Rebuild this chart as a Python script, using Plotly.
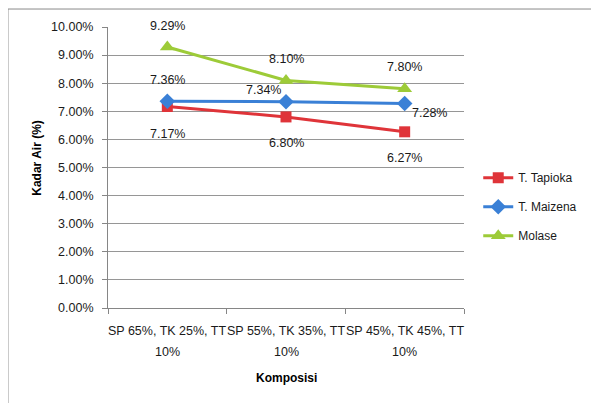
import plotly.graph_objects as go

categories = ["SP 65%, TK 25%, TT 10%", "SP 55%, TK 35%, TT 10%", "SP 45%, TK 45%, TT 10%"]
tick_lines_1 = ["SP 65%, TK 25%, TT", "SP 55%, TK 35%, TT", "SP 45%, TK 45%, TT"]
tick_lines_2 = ["10%", "10%", "10%"]
tapioka = [7.17, 6.80, 6.27]
maizena = [7.36, 7.34, 7.28]
molase = [9.29, 8.10, 7.80]
y_ticks = [0, 1, 2, 3, 4, 5, 6, 7, 8, 9, 10]

FONT = "Liberation Sans"
FS = 12.5
RED = "#DF3439"
BLUE = "#3A80D6"
GREEN = "#9DCB38"

fig = go.Figure()
series = [
    ("T. Tapioka", tapioka, RED, "square", 11),
    ("T. Maizena", maizena, BLUE, "diamond", 12),
    ("Molase", molase, GREEN, "triangle-up", 13),
]
for name, vals, col, sym, sz in series:
    fig.add_trace(go.Scatter(
        x=categories, y=vals, name=name, mode="lines+markers",
        line=dict(color=col, width=3),
        marker=dict(color=col, symbol=sym, size=sz),
        legendgroup=name,
    ))

# data labels (offsets in pixels)
label_offsets = {
    "T. Tapioka": [(0, -27), (0, -26), (0, -26)],
    "T. Maizena": [(0, 21), (-23, 12), (25, -10)],
    "Molase": [(0, 21), (0, 21), (0, 22)],
}
annotations = []
for name, vals, col, sym, sz in series:
    for i, v in enumerate(vals):
        dx, dy = label_offsets[name][i]
        annotations.append(dict(
            x=categories[i], y=v, xref="x", yref="y", text=f"{v:.2f}%",
            showarrow=False, xshift=dx, yshift=dy,
            font=dict(family=FONT, size=FS, color="#1a1a1a"),
        ))

# category tick labels (wrapped like the original)
for i, c in enumerate(categories):
    annotations.append(dict(x=c, y=0, xref="x", yref="y", text=tick_lines_1[i],
                            showarrow=False, yshift=-23, yanchor="middle",
                            font=dict(family=FONT, size=FS, color="#1a1a1a")))
    annotations.append(dict(x=c, y=0, xref="x", yref="y", text=tick_lines_2[i],
                            showarrow=False, yshift=-44, yanchor="middle",
                            font=dict(family=FONT, size=FS, color="#1a1a1a")))

# axis titles
annotations.append(dict(x=0.5, y=-0.249, xref="paper", yref="paper", text="<b>Komposisi</b>",
                        showarrow=False, xanchor="center", yanchor="middle",
                        font=dict(family=FONT, size=12, color="#000000")))
annotations.append(dict(x=-0.2, y=0.534, xref="paper", yref="paper", text="<b>Kadar Air (%)</b>",
                        showarrow=False, textangle=-90, xanchor="center", yanchor="middle",
                        font=dict(family=FONT, size=12, color="#000000")))

shapes = [
    dict(type="line", xref="paper", yref="paper", x0=-0.281, x1=1.5, y0=1.064, y1=1.064,
         line=dict(color="#8a8a8a", width=1)),
    dict(type="line", xref="paper", yref="paper", x0=-0.281, x1=-0.281, y0=1.064, y1=-0.5,
         line=dict(color="#8a8a8a", width=1)),
]

fig.update_layout(
    width=591, height=395,
    margin=dict(l=100, r=135, t=19, b=95),
    paper_bgcolor="white", plot_bgcolor="white",
    font=dict(family=FONT, size=FS, color="#1a1a1a"),
    annotations=annotations,
    shapes=shapes,
    showlegend=True,
    legend=dict(x=1.04, y=0.515, xanchor="left", yanchor="top",
                font=dict(family=FONT, size=12, color="#1a1a1a"),
                tracegroupgap=10, itemwidth=30, bgcolor="rgba(0,0,0,0)"),
    xaxis=dict(
        type="category", showticklabels=False, showgrid=False,
        showline=True, linecolor="#868686", linewidth=1,
        ticks="outside", ticklen=5, tickcolor="#868686", tickson="boundaries",
        range=[-0.5, 2.5], fixedrange=True,
    ),
    yaxis=dict(
        range=[0, 10], tickvals=y_ticks, ticktext=[f"{t:.2f}%" for t in y_ticks],
        showgrid=True, gridcolor="#969696", gridwidth=1,
        showline=True, linecolor="#868686", linewidth=1,
        ticks="outside", ticklen=5, tickcolor="#868686",
        ticklabelstandoff=6, zeroline=False,
        tickfont=dict(family=FONT, size=FS, color="#1a1a1a"),
    ),
)

fig.write_html("out.html")
